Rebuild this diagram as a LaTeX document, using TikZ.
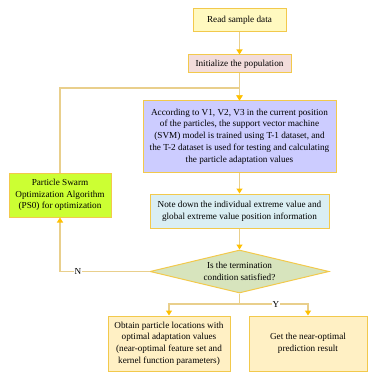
\documentclass[tikz,border=0pt]{standalone}
\usepackage{fontspec}
\setmainfont{Liberation Serif}
\usetikzlibrary{shapes.geometric,arrows.meta}
\definecolor{bord}{HTML}{F2C94C}
\definecolor{linec}{HTML}{E9CF8C}
\definecolor{tipc}{HTML}{FFC000}
\definecolor{c1}{HTML}{FFF9C0}
\definecolor{c2}{HTML}{F2DCDB}
\definecolor{c3}{HTML}{CCCCFF}
\definecolor{c4}{HTML}{DAEEF3}
\definecolor{c5}{HTML}{D7E4BD}
\definecolor{c6}{HTML}{CCFF33}
\definecolor{c7}{HTML}{FFF0C4}
\tikzset{
  box/.style={draw=bord, line width=1pt, align=center, inner sep=0pt, font=\fontsize{9.2}{11.75}\selectfont},
  conn/.style={draw=linec, line width=1.2pt, -{Triangle[color=tipc,length=5pt,width=6pt]}},
  plain/.style={draw=linec, line width=1.2pt},
  lab/.style={fill=white, inner sep=1pt, font=\fontsize{9.2}{10}\selectfont}
}
\begin{document}
\begin{tikzpicture}[x=1pt,y=-1pt]
\useasboundingbox (0,0) rectangle (368,374);
\node[box, fill=c1, minimum width=93pt, minimum height=23pt] (read) at (239.5,20.5) {Read sample data};
\node[box, fill=c2, minimum width=103pt, minimum height=18pt] (init) at (239.5,64) {Initialize the population};
\node[box, fill=c3, minimum width=193pt, minimum height=71pt] (svm) at (239.5,136.5) {According to V1, V2, V3 in the current position\\of the particles, the support vector machine\\(SVM) model is trained using T-1 dataset, and\\the T-2 dataset is used for testing and calculating\\the particle adaptation values};
\node[box, fill=c4, minimum width=179pt, minimum height=34pt] (note) at (239.5,211) {Note down the individual extreme value and\\global extreme value position information};
\node[diamond, draw=bord, line width=1pt, fill=c5, aspect=4.16, inner sep=0pt, minimum width=179pt, minimum height=43pt, align=center, font=\fontsize{9.2}{11.75}\selectfont] (cond) at (239.5,271.5) {Is the termination\\condition satisfied?};
\node[box, fill=c6, minimum width=102pt, minimum height=44pt] (pso) at (60,195) {Particle Swarm\\Optimization Algorithm\\(PS0) for optimization};
\node[box, fill=c7, minimum width=122pt, minimum height=55pt] (obt) at (169,343.5) {Obtain particle locations with\\optimal adaptation values\\(near-optimal feature set and\\kernel function parameters)};
\node[box, fill=c7, minimum width=118pt, minimum height=55pt] (get) at (308,343.5) {Get the near-optimal\\prediction result};
\coordinate (fb) at (60,88);
\coordinate (nc) at (60,271.5);
\coordinate (yb) at (239.5,304);
\draw[conn] (read) -- (init);
\draw[conn] (init) -- (svm);
\draw[conn] (svm) -- (note);
\draw[conn] (note) -- (cond);
\draw[conn] (pso.north) -- (fb) -| (svm.north);
\draw[conn] (cond.west) -- (nc) -- (pso.south);
\node[lab] at (78,271.5) {N};
\draw[plain] (cond.south) -- (yb);
\draw[conn] (yb) -| (obt.north);
\draw[conn] (yb) -| (get.north);
\node[lab] at (276,304) {Y};
\end{tikzpicture}
\end{document}
